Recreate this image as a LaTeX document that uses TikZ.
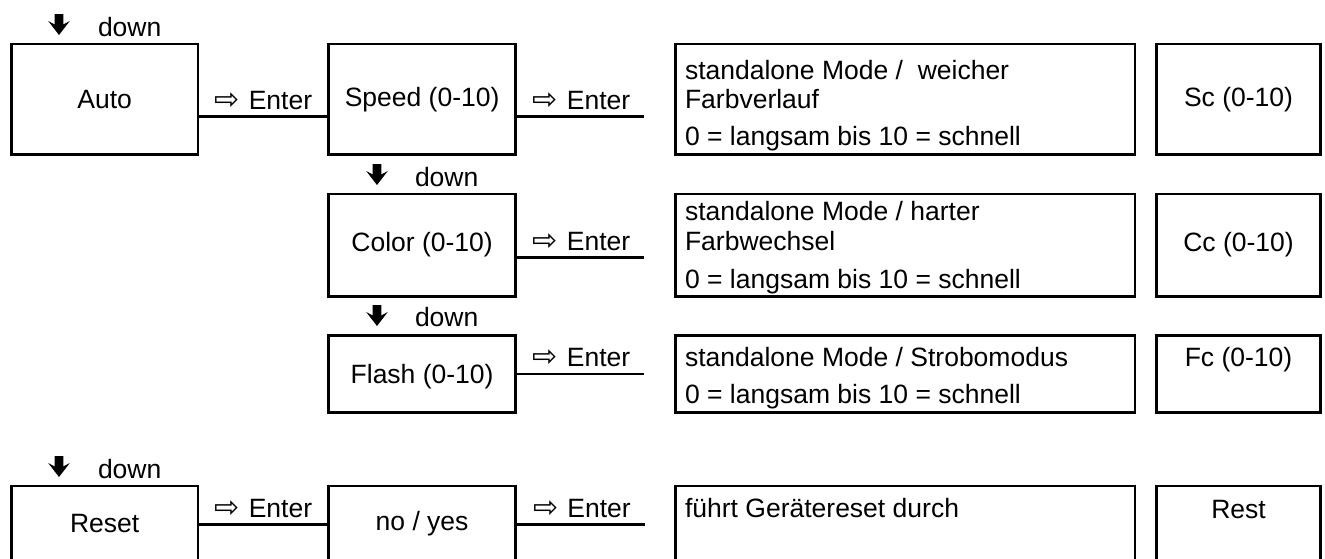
\documentclass[tikz,border=0pt]{standalone}
\usepackage{fontspec}
\setmainfont{Liberation Sans}
\newfontfamily\symfont{DejaVu Sans}
\newcommand\enterlbl{{\symfont\fontsize{30pt}{30pt}\selectfont ⇨}\hspace{9pt}Enter}
\begin{document}
\begin{tikzpicture}[x=1pt,y=-1pt,
  every node/.style={font=\fontsize{26.5pt}{31pt}\selectfont, inner sep=0pt, outer sep=0pt},
  box/.style={draw, line width=2.7pt, rectangle, inner sep=0pt},
  midbox/.style={box, minimum width=186.8pt},
  descbox/.style={box, minimum width=459.3pt},
  resbox/.style={box, minimum width=164pt},
  conn/.style={line width=2.7pt},
  elabel/.style={anchor=base, yshift=7.3pt},
  dtext/.style={anchor=base west},
  ctext/.style={anchor=base},
  dnarrow/.pic={\fill (-4.3,-21) -- (4.3,-21) -- (4.3,-10.5) -- (10.8,-14) -- (0,0) -- (-10.8,-14) -- (-4.3,-10.5) -- cycle;}
]
\useasboundingbox (0,0) rectangle (1325,558);
\clip (0,0) rectangle (1325,558);

% ---- row 1
\pic at (59,35) {dnarrow};
\node[dtext] (dn1) at (98,36) {down};
\node[box, minimum width=186.7pt, minimum height=110.7pt] (auto) at (104.7,99.3) {Auto};
\node[midbox, minimum height=110.7pt] (speed) at (422.1,99.3) {Speed (0-10)};
\node[descbox, minimum height=110.7pt] (d1) at (905.4,99.3) {};
\node[resbox, minimum height=110.7pt] (r1) at (1238.5,99.3) {Sc (0-10)};
\node[dtext] (d1a) at ([shift={(9.3,36)}]d1.north west) {standalone Mode /\ \ weicher};
\node[dtext] (d1b) at ([shift={(9.3,65)}]d1.north west) {Farbverlauf};
\node[dtext] (d1c) at ([shift={(9.3,102)}]d1.north west) {0 = langsam bis 10 = schnell};
\coordinate (y1) at (0,116.5);
\coordinate (e1) at (644,116.5);
\draw[conn] (auto.east |- y1) -- (speed.west |- y1) node[elabel, midway] (l1a) {\enterlbl};
\draw[conn] (speed.east |- e1) -- (e1) node[elabel, midway, xshift=1.7pt] (l1b) {\enterlbl};

% ---- row 2
\pic at (377,185) {dnarrow};
\node[dtext] (dn2) at (415,186) {down};
\node[midbox, minimum height=102.2pt] (color) at (422.1,245.1) {Color (0-10)};
\node[descbox, minimum height=102.2pt] (d2) at (905.4,245.1) {};
\node[resbox, minimum height=102.2pt] (r2) at (1238.5,245.1) {Cc (0-10)};
\node[dtext] (d2a) at ([shift={(9.3,26)}]d2.north west) {standalone Mode / harter};
\node[dtext] (d2b) at ([shift={(9.3,56)}]d2.north west) {Farbwechsel};
\node[dtext] (d2c) at ([shift={(9.3,94)}]d2.north west) {0 = langsam bis 10 = schnell};
\coordinate (e2) at (644,257.3);
\draw[conn] (color.east |- e2) -- (e2) node[elabel, midway, xshift=1.7pt] (l2) {\enterlbl};

% ---- row 3
\pic at (377,326) {dnarrow};
\node[dtext] (dn3) at (415,326.7) {down};
\node[midbox, minimum height=77pt] (flash) at (422.1,373.8) {};
\node[ctext] (flasht) at ([yshift=-9.5pt]flash.center) {Flash (0-10)};
\node[descbox, minimum height=77pt] (d3) at (905.4,373.8) {};
\node[resbox, minimum height=77pt] (r3) at (1238.5,373.8) {};
\node[dtext] (d3a) at ([shift={(9.3,31.4)}]d3.north west) {standalone Mode / Strobomodus};
\node[dtext] (d3b) at ([shift={(9.3,67.7)}]d3.north west) {0 = langsam bis 10 = schnell};
\node[ctext] (r3t) at ([shift={(0,31.4)}]r3.north) {Fc (0-10)};
\coordinate (e3) at (644,374);
\draw[conn] (flash.east |- e3) -- (e3) node[elabel, midway, xshift=1.7pt] (l3) {\enterlbl};

% ---- row 4
\pic at (59,477) {dnarrow};
\node[dtext] (dn4) at (98,478) {down};
\node[box, minimum width=186.7pt, minimum height=76pt] (reset) at (104.7,524) {Reset};
\node[midbox, minimum height=76pt] (noyes) at (422.1,524) {no / yes};
\node[descbox, minimum height=76pt] (d4) at (905.4,524) {};
\node[resbox, minimum height=76pt] (r4) at (1238.5,524) {};
\node[dtext] (d4a) at ([shift={(9.3,31)}]d4.north west) {führt Gerätereset durch};
\node[ctext] (r4t) at ([shift={(0,32)}]r4.north) {Rest};
\coordinate (y4) at (0,524.3);
\coordinate (e4) at (645,524.3);
\draw[conn] (reset.east |- y4) -- (noyes.west |- y4) node[elabel, midway] (l4a) {\enterlbl};
\draw[conn] (noyes.east |- e4) -- (e4) node[elabel, midway, xshift=1.7pt] (l4b) {\enterlbl};
\end{tikzpicture}
\end{document}
